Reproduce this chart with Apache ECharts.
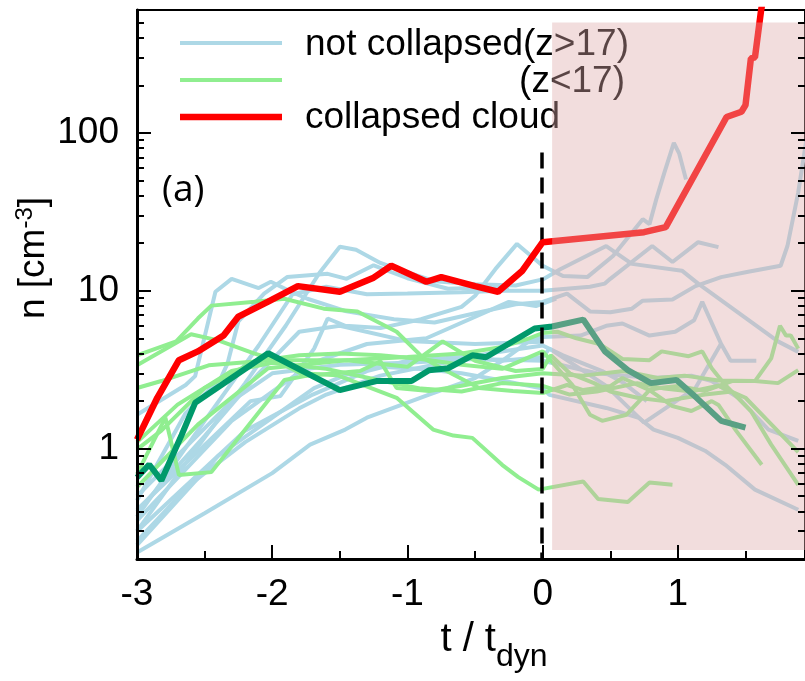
<!DOCTYPE html>
<html lang="en">
<head>
<meta charset="UTF-8">
<title>n vs t / t_dyn</title>
<script src="https://cdn.jsdelivr.net/npm/echarts@6/dist/echarts.min.js"></script>
<style>html,body{margin:0;padding:0;background:#fff;}</style>
</head>
<body>
<div id="main" style="width:805px;height:681px;"></div>
<script>
// [t / t_dyn, n (cm^-3)]
var blueA = [[-3,0.41],[-2.16,2.0],[-1.94,2.15],[-1.69,4.3],[-1.59,6.67],[-1.46,6.0],[-1.2,5.8],[-0.9,6.6],[-0.6,7.9],[-0.5,9.3],[-0.35,13.7],[-0.19,19.8],[0,14.4],[0.15,12.4],[0.33,12.2],[0.52,16.6],[0.74,28.4],[0.79,26.4],[0.84,37.9],[0.9,56],[0.97,86.5],[1.01,73.8],[1.06,50.6]];
var blueB = [[-3,0.37],[-2.5,1.5],[-2.1,4.5],[-1.85,9.5],[-1.6,10.6],[-1.3,9.5],[-1.0,9.6],[-0.6,9.8],[-0.3,10],[0,10],[0.35,10.6],[0.46,11.1],[0.5,11.9],[0.81,19.2],[0.96,15.2],[1.15,20.3],[1.3,18.9]];
var blueC = [[-3,0.3],[-2.6,0.9],[-2.2,2.6],[-1.9,6],[-1.65,13],[-1.5,19],[-1.38,18.2],[-1.2,15],[-1.05,13.5],[-0.8,11.5],[-0.5,11],[-0.2,10.8],[0,11.8],[0.13,13.7],[0.47,19.2],[0.66,14.8],[1.03,13.4],[1.15,11.1],[1.74,4.78],[1.89,4.1]];
var blueD = [[-3,1.64],[-2.64,2.53],[-2.57,2.88],[-2.42,9.86],[-2.3,11.9],[-2.1,10.4],[-2.01,11.4],[-1.86,9.86],[-1.74,8.9],[-1.45,7.4],[-1.1,6.6],[-0.8,6.3],[-0.5,7.2],[-0.2,8.2],[0,8.5],[0.18,9.6],[0.35,7.4],[0.5,7.3],[0.66,7.7],[0.74,8.65],[0.96,8.8],[1.13,10.7],[1.32,12.2],[1.52,13.2],[1.76,14.4],[1.81,19.2],[1.89,42],[1.95,90]];
var blueE = [[-3,0.47],[-2.64,1.68],[-2.38,2.8],[-2.33,3.47],[-2.25,6.4],[-2.06,9.6],[-1.89,12.2],[-1.59,12.8],[-1.45,11.9],[-1.25,14.5],[-1.0,12],[-0.7,10.3],[-0.4,10.5],[-0.25,10.2]];
var blueF = [[-3,0.22],[-2.5,0.39],[-2,0.7],[-1.72,1.06],[-1.46,1.32],[-1.3,1.57],[-0.84,2.2],[-0.5,2.8],[-0.3,3.6],[-0.1,4.8],[0,5.1],[0.28,5.2],[0.47,6.0],[0.59,6.2],[0.79,5.2],[0.98,5.5],[1.12,6.5],[1.18,8.5],[1.32,4.6],[1.39,3.6],[1.58,3.6]];
var blueG = [[-3,0.245],[-2.4,0.9],[-1.69,2.42],[-1.46,2.92],[-1.2,3.3],[-0.9,3.2],[-0.6,3.0],[-0.3,2.7],[0,2.4],[0.05,2.19],[0.47,1.81],[0.71,1.57],[0.82,1.32],[1.0,1.17],[1.2,0.97],[1.35,0.79],[1.57,0.55],[1.89,0.41]];
var blueH = [[-3,0.3],[-2.2,1.3],[-1.7,2.2],[-1.3,3.1],[-1.0,3.6],[-0.6,3.8],[-0.3,3.6],[0,3.8],[0.05,4.3],[0.47,2.5],[0.75,1.46],[1.13,2.42],[1.32,4.64]];
var blueI = [[-3,0.5],[-2.3,2.0],[-2.0,3.0],[-1.5,3.4],[-1.0,3.5],[-0.5,3.7],[0,3.6],[0.4,3.0],[0.8,2.8],[1.1,2.9],[1.25,2.68],[1.45,2.09],[1.67,1.32],[1.89,1.12]];
var blueJ = [[-3,0.4],[-2.5,1.2],[-2.1,3.0],[-1.8,5.5],[-1.5,6.0],[-1.0,4.8],[-0.5,4.6],[0,4.75]];
var blueK = [[-3,0.35],[-2.3,1.5],[-1.7,3.5],[-1.3,4.6],[-0.86,5.0],[-0.25,8.5],[-0.05,8.0],[0.1,8.9]];
var blueL = [[-3,0.26],[-2.6,0.6],[-2.2,1.1],[-1.8,1.8],[-1.6,2.2],[-1.2,2.9],[-0.8,3.4],[-0.4,4.0],[0,4.5],[0.15,3.9],[0.44,3.1],[0.6,2.6],[0.77,2.0]];

var greenA = [[-3,3.9],[-2.71,4.78],[-2.55,6.67],[-2.45,8.05],[-2.13,8.53],[-1.91,8.9],[-1.62,7.7],[-1.37,7.38],[-1.08,5.5],[-0.88,3.73],[-0.71,3.1],[-0.47,2.42],[-0.22,2.32],[0,2.25],[0.18,2.53],[0.3,2.35],[0.5,2.49],[0.59,2.8],[0.79,2.35],[0.96,1.86],[1.1,1.73],[1.25,2.0],[1.3,1.89],[1.43,1.3],[1.62,0.79]];
var greenB = [[-3,3.37],[-2.6,5.3],[-2.4,4.85],[-2.13,4.0],[-2.01,3.73],[-1.79,3.0],[-1.52,2.92],[-1.08,2.1],[-0.81,1.32],[-0.66,1.21],[-0.52,1.17],[-0.3,0.79],[-0.18,0.66],[-0.03,0.55],[0.3,0.62],[0.41,0.48],[0.63,0.46],[0.79,0.61],[0.96,0.59]];
var greenC = [[-3,2.42],[-2.82,2.68],[-2.47,3.37],[-2.01,3.63],[-1.45,3.63],[-1.0,3.8],[-0.6,4.0],[-0.3,4.4],[-0.1,5.0],[0,5.4],[0.11,5.5],[0.25,5.0],[0.42,4.6],[0.59,3.7],[0.79,3.63],[0.88,4.13],[1.08,3.85],[1.18,4.13],[1.25,3.23],[1.35,2.53],[1.54,1.73],[1.69,1.06],[1.89,0.59]];
var greenD = [[-3,0.99],[-2.82,1.3],[-2.5,2.42],[-2.13,3.57],[-1.8,3.9],[-1.5,4.0],[-1.2,3.9],[-0.9,3.7],[-0.6,3.4],[-0.3,3.2],[0,4.13],[0.22,2.53],[0.35,1.64],[0.44,1.5],[0.62,1.64],[0.79,2.35],[0.86,2.42],[1.0,2.49],[1.2,2.32],[1.4,2.68],[1.57,2.68],[1.74,2.6],[1.89,3.14]];
var greenE = [[-3,0.69],[-2.79,1.57],[-2.69,0.68],[-2.45,0.71],[-1.91,2.72],[-1.76,2.88],[-1.35,3.1],[-1.2,3.57],[-1.08,2.42],[-0.84,2.32],[-0.6,2.5],[-0.3,2.8],[0,3.0],[0.3,2.9],[0.6,3.1],[0.85,2.8],[1.05,2.9],[1.3,2.7],[1.57,2.68],[1.69,3.73],[1.755,6.0],[1.8,5.2],[1.835,5.2],[1.89,4.3]];
var greenF = [[-3,0.57],[-2.55,1.42],[-2.03,3.23],[-1.45,3.63],[-1.0,3.3],[-0.74,4.78],[-0.5,3.6],[-0.2,3.1],[0,3.2],[0.06,3.9],[0.2,3.0],[0.38,2.6],[0.5,2.3],[0.7,2.1],[0.9,2.0],[1.2,2.2],[1.4,2.3]];
var greenG = [[-3,1.1],[-2.7,1.9],[-2.3,3.1],[-2.0,3.5],[-1.6,3.2],[-1.2,2.7],[-0.9,2.4],[-0.6,2.3],[-0.3,2.6],[0,2.5],[0.2,2.2],[0.4,2.3],[0.7,2.6],[0.9,2.4],[1.1,2.3],[1.3,2.5],[1.5,2.1],[1.7,1.4],[1.89,0.95]];

var collapsedCloud = [[-3,1.14],[-2.85,2.1],[-2.69,3.63],[-2.55,4.13],[-2.36,5.21],[-2.25,6.86],[-2.03,8.53],[-1.81,10.7],[-1.5,9.86],[-1.25,12.1],[-1.12,14.4],[-0.86,11.4],[-0.75,12.2],[-0.5,10.7],[-0.33,9.86],[-0.15,13.4],[0,20.3],[0.75,23.5],[0.91,25.3],[1.36,126],[1.47,136],[1.5,150],[1.54,296],[1.57,301],[1.615,594],[1.64,800]];
var collapsedTrack = [[-3,0.657],[-2.91,0.793],[-2.82,0.629],[-2.67,1.22],[-2.57,1.95],[-2.03,4.02],[-1.5,2.35],[-1.23,2.68],[-0.97,2.68],[-0.84,3.14],[-0.7,3.23],[-0.52,3.9],[-0.42,3.79],[-0.06,5.77],[0.07,5.94],[0.3,6.57],[0.46,4.13],[0.63,3.14],[0.8,2.6],[0.99,2.72],[1.14,2.09],[1.32,1.5],[1.5,1.36]];

var xMajor = [-3, -2, -1, 0, 1];
var xMinor = [-2.5, -1.5, -0.5, 0.5, 1.5];
var yMajor = [1, 10, 100];
var yMinor = [0.2,0.3,0.4,0.5,0.6,0.7,0.8,0.9,2,3,4,5,6,7,8,9,20,30,40,50,60,70,80,90,200,300,400,500,600];

var chart = echarts.init(document.getElementById('main'), null, {renderer: 'canvas'});
var FONT = '"Liberation Sans", Arial, sans-serif';

function line(name, data, color, width, z) {
    return {
        name: name, type: 'line', data: data, z: z,
        showSymbol: false, symbol: 'none', silent: true, animation: false,
        lineStyle: {color: color, width: width}, itemStyle: {color: color}
    };
}

var series = [];
[blueA, blueB, blueC, blueD, blueE, blueF, blueG, blueH, blueI, blueJ, blueK, blueL].forEach(function (d) {
    series.push(line('not collapsed(z>17)', d, '#add8e6', 4, 2));
});
[greenA, greenB, greenC, greenD, greenE, greenF, greenG].forEach(function (d) {
    series.push(line('(z<17)', d, '#90ee90', 4, 3));
});
series.push(line('collapsed track', collapsedTrack, '#00996b', 6, 4));
series.push(line('collapsed cloud', collapsedCloud, '#ff0000', 6.5, 5));

// t = 0 marker and the shaded region after collapse
series.push({
    type: 'line', data: [], z: 6, silent: true, animation: false,
    markLine: {
        symbol: 'none', silent: true, animation: false, label: {show: false},
        lineStyle: {color: '#000', width: 3.5, type: [16, 9]},
        data: [[{coord: [-0.01, 75]}, {coord: [-0.01, 0.2]}]]
    }
});
series.push({
    type: 'line', data: [], z: 50, silent: true, animation: false,
    markArea: {
        z: 50, silent: true, animation: false,
        itemStyle: {color: 'rgba(222,170,170,0.4)'},
        data: [[{coord: [0.07, 0.228]}, {coord: [1.94, 500]}]]
    }
});

function yAx(pos, ticks, len, labels, lineShow) {
    return {
        type: 'log', logBase: 10, min: 0.2, max: 600, position: pos, z: 60,
        axisLine: {show: lineShow, onZero: false, lineStyle: {color: '#000', width: 3}},
        axisTick: {inside: true, length: len, customValues: ticks, lineStyle: {color: '#000', width: 2}},
        axisLabel: labels ? {customValues: yMajor, color: '#000', fontSize: 37, fontFamily: FONT, margin: 18} : {show: false},
        splitLine: {show: false}
    };
}
function xAx(ticks, len, labels, lineShow) {
    return {
        type: 'value', min: -3, max: 1.94, position: 'bottom', z: 60,
        axisLine: {show: lineShow, onZero: false, lineStyle: {color: '#000', width: 3}},
        axisTick: {inside: true, length: len, customValues: ticks, lineStyle: {color: '#000', width: 2}},
        axisLabel: labels ? {customValues: xMajor, color: '#000', fontSize: 37, fontFamily: FONT, margin: 17} : {show: false},
        splitLine: {show: false}
    };
}

var option = {
    animation: false,
    backgroundColor: '#fff',
    grid: {left: 137, top: 10, right: -8, bottom: 122, show: true, borderColor: '#000', borderWidth: 2},
    xAxis: [xAx(xMajor, 14, true, true), xAx(xMinor, 8, false, false)],
    yAxis: [yAx('left', yMajor, 14, true, true), yAx('left', yMinor, 7, false, false),
            yAx('right', yMajor, 14, false, false), yAx('right', yMinor, 7, false, false)],
    series: series,
    graphic: [
        {type: 'line', z: 10, shape: {x1: 180, y1: 43, x2: 282, y2: 43}, style: {stroke: '#add8e6', lineWidth: 4}},
        {type: 'line', z: 10, shape: {x1: 180, y1: 80, x2: 282, y2: 80}, style: {stroke: '#90ee90', lineWidth: 4}},
        {type: 'line', z: 10, shape: {x1: 180, y1: 117, x2: 282, y2: 117}, style: {stroke: '#ff0000', lineWidth: 6.5}},
        {type: 'text', z: 10, x: 305, y: 45, style: {text: 'not collapsed(z>17)', font: '37px ' + FONT, fill: '#000', textVerticalAlign: 'middle'}},
        {type: 'text', z: 10, x: 625, y: 82, style: {text: '(z<17)', font: '37px ' + FONT, fill: '#000', textAlign: 'right', textVerticalAlign: 'middle'}},
        {type: 'text', z: 10, x: 305, y: 118, style: {text: 'collapsed cloud', font: '37px ' + FONT, fill: '#000', textVerticalAlign: 'middle'}},
        {type: 'text', z: 10, x: 162, y: 190, style: {text: '(a)', font: '37px "Open Sans", sans-serif', fill: '#000', textVerticalAlign: 'middle'}},
        {type: 'text', z: 10, x: 34, y: 258, rotation: Math.PI / 2,
            style: {text: 'n [cm{sup|-3}]', fontSize: 37, fontFamily: FONT, fill: '#000', lineHeight: 42,
                align: 'center', verticalAlign: 'middle',
                rich: {sup: {fontSize: 24, fontFamily: FONT, fill: '#000', verticalAlign: 'top', lineHeight: 42}}}},
        {type: 'text', z: 10, x: 494, y: 640,
            style: {text: 't / t{sub|dyn}', fontSize: 40, fontFamily: FONT, fill: '#000', lineHeight: 46,
                align: 'center', verticalAlign: 'middle',
                rich: {sub: {fontSize: 32, fontFamily: FONT, fill: '#000', verticalAlign: 'bottom', lineHeight: 66}}}}
    ]
};
chart.setOption(option);
</script>
</body>
</html>
